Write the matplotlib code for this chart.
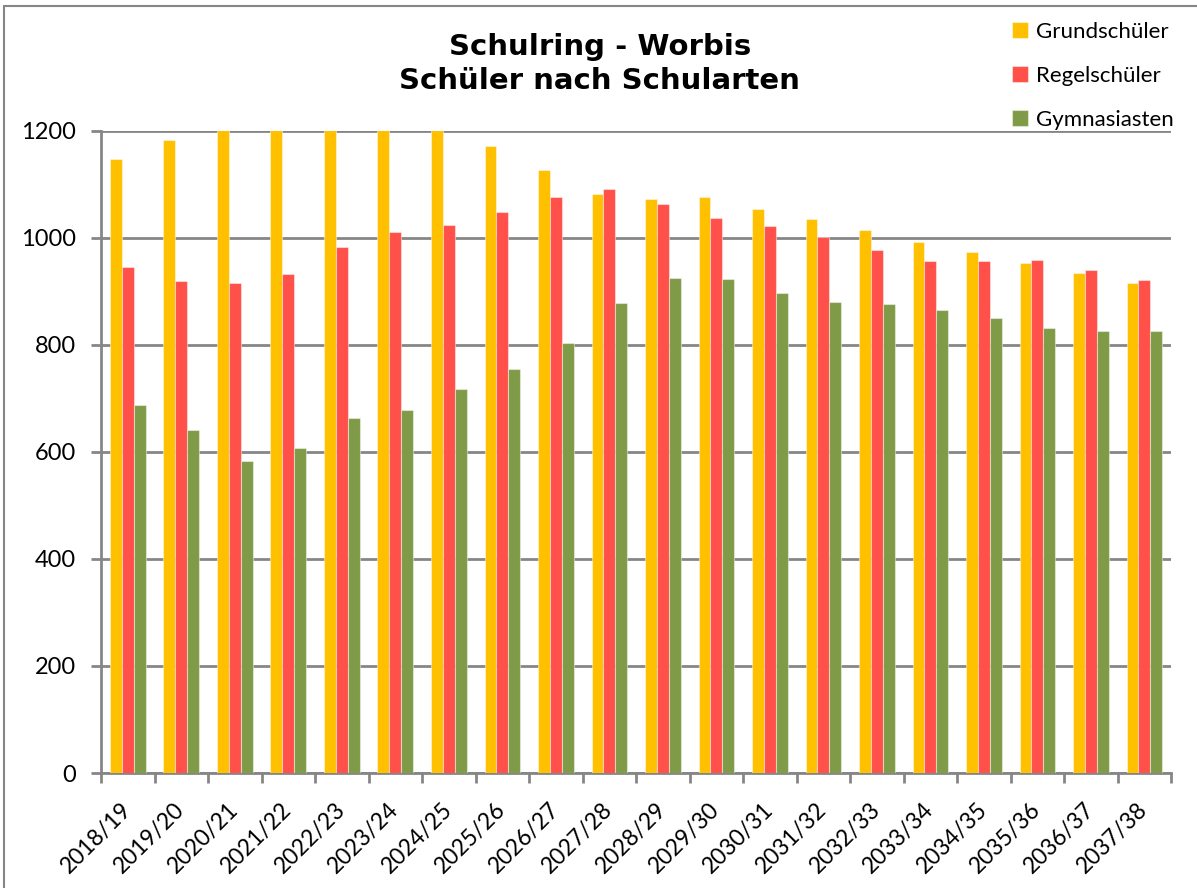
# schulring_worbis_schularten.py
# Grouped bar chart: pupils per school type, Schulring Worbis, 2018/19 - 2037/38

import numpy as np
import matplotlib.pyplot as plt
from matplotlib.patches import Rectangle

# --- data -------------------------------------------------------------
schuljahre = ["2018/19", "2019/20", "2020/21", "2021/22", "2022/23",
              "2023/24", "2024/25", "2025/26", "2026/27", "2027/28",
              "2028/29", "2029/30", "2030/31", "2031/32", "2032/33",
              "2033/34", "2034/35", "2035/36", "2036/37", "2037/38"]

grundschueler = [1148, 1184, 1205, 1220, 1230, 1225, 1210, 1172, 1127, 1082,
                 1073, 1077, 1055, 1035, 1014, 993, 974, 954, 935, 916]
regelschueler = [946, 919, 915, 933, 984, 1012, 1024, 1049, 1077, 1092,
                 1064, 1037, 1022, 1002, 978, 957, 957, 959, 940, 921]
gymnasiasten = [687, 642, 584, 607, 664, 678, 718, 755, 803, 878,
                925, 923, 897, 880, 876, 865, 850, 832, 826, 826]

serien = ["Grundschüler", "Regelschüler", "Gymnasiasten"]
farben = ["#FFC000", "#FF5049", "#7F9B48"]

titel = "Schulring - Worbis\nSchüler nach Schularten"
y_ticks = [0, 200, 400, 600, 800, 1000, 1200]

# --- plot -------------------------------------------------------------
GRID = "#868686"
plt.rcParams["font.family"] = ["Lato", "DejaVu Sans"]

fig = plt.figure(figsize=(11.97, 8.88), dpi=100)
ax = fig.add_axes([0.0844, 0.1295, 0.894, 0.723])

x = np.arange(len(schuljahre))
w = 0.222  # gap width 150 %
for i, (werte, name, farbe) in enumerate(zip([grundschueler, regelschueler, gymnasiasten], serien, farben)):
    ax.bar(x + (i - 1) * w, werte, width=w, color=farbe, label=name,
           edgecolor=(1, 1, 1, 0.45), linewidth=0.8, zorder=3)

ax.set_xlim(-0.5, len(schuljahre) - 0.5)
ax.set_ylim(0, 1200)
ax.set_yticks(y_ticks)
ax.set_yticklabels([str(v) for v in y_ticks], fontsize=17)
ax.yaxis.grid(True, color=GRID, linewidth=2.0, zorder=1)

# category ticks sit between the groups, labels at the group centres
ax.set_xticks(np.arange(len(schuljahre) + 1) - 0.5)
ax.set_xticklabels([])
ax.set_xticks(x, minor=True)
ax.set_xticklabels(schuljahre, minor=True, rotation=45, ha="right",
                   va="center", rotation_mode="anchor", fontsize=16.5)
ax.tick_params(axis="x", which="minor", length=0, pad=24)
ax.tick_params(axis="x", which="major", length=7, width=2, color=GRID)
ax.tick_params(axis="y", length=7, width=2, color=GRID, pad=11)

for s in ["top", "right"]:
    ax.spines[s].set_visible(False)
for s in ["left", "bottom"]:
    ax.spines[s].set_color(GRID)
    ax.spines[s].set_linewidth(2.0)

fig.text(0.501, 0.928, titel, ha="center", va="center", fontsize=21,
         fontweight="bold", family="DejaVu Sans", linespacing=1.25)

fig.legend(loc="upper left", bbox_to_anchor=(0.829, 0.998), frameon=False,
           fontsize=16, handlelength=0.7, handleheight=0.7, handletextpad=0.35,
           labelspacing=1.08)

# chart area border
fig.patches.append(Rectangle((4 / 1197, -0.05), 1.1, 1.05 - 6 / 888,
                             transform=fig.transFigure, fill=False,
                             edgecolor=GRID, linewidth=1.5))

fig.savefig("out.png", dpi=100)
